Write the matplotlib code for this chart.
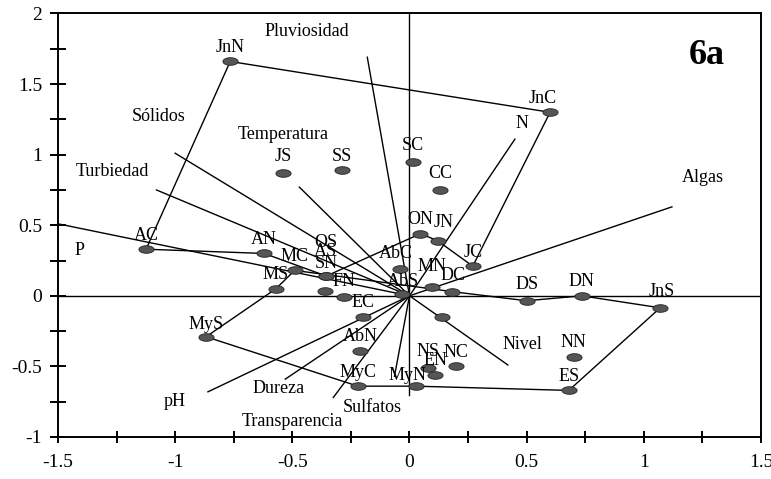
import numpy as np
import matplotlib
matplotlib.use("Agg")
import matplotlib.pyplot as plt

plt.rcParams['font.family'] = ['Liberation Serif', 'DejaVu Serif']

# sample scores (month + site)
names = ['JnN', 'JnC', 'SC', 'CC', 'JS', 'SS', 'AC', 'AN', 'MC', 'MS',
         'OS', 'AS', 'SN', 'FN', 'EC', 'MyS', 'AbN', 'MyC', 'MyN', 'NS',
         'EN', 'NC', '', 'NN', 'ES', 'JnS', 'DN', 'DS', 'DC', 'MN',
         'JC', 'JN', 'ON', 'AbC', 'AbS']
sx = [-0.765, 0.60, 0.013, 0.13, -0.54, -0.29, -1.124, -0.62, -0.49, -0.57,
      -0.355, -0.36, -0.355, -0.278, -0.20, -0.868, -0.21, -0.22, 0.026, 0.077,
      0.11, 0.197, 0.14, 0.70, 0.68, 1.07, 0.735, 0.50, 0.18, 0.094,
      0.27, 0.12, 0.047, -0.04, -0.03]
sy = [1.66, 1.30, 0.95, 0.75, 0.87, 0.89, 0.33, 0.30, 0.18, 0.05,
      0.14, 0.035, 0.14, -0.007, -0.148, -0.29, -0.39, -0.64, -0.64, -0.51,
      -0.56, -0.50, -0.15, -0.43, -0.67, -0.085, 0.0, -0.035, 0.03, 0.06,
      0.21, 0.39, 0.44, 0.19, 0.01]

# environmental vectors
vec_names = ['P', 'Turbiedad', 'Sólidos', 'Temperatura', 'Pluviosidad', 'N',
             'Algas', 'Nivel', 'pH', 'Dureza', 'Sulfatos', 'Transparencia']
vx = [-1.5, -1.08, -1.0, -0.47, -0.18, 0.45, 1.12, 0.42, -0.86, -0.53, -0.325, -0.064]
vy = [0.51, 0.75, 1.01, 0.77, 1.69, 1.11, 0.63, -0.49, -0.68, -0.59, -0.72, -0.57]

# envelopes
hull1 = ['AC', 'AN', 'SN', 'ON', 'JN', 'JC', 'JnC', 'JnN', 'AC']
hull2 = ['MyS', 'MS', 'MC', 'DC', 'DS', 'DN', 'JnS', 'ES', 'MyN', 'MyC', 'MyS']

xticks = [-1.5, -1, -0.5, 0, 0.5, 1, 1.5]
xtick_labels = ['-1.5', '-1', '-0.5', '0', '0.5', '1', '1.5']
yticks = [-1, -0.5, 0, 0.5, 1, 1.5, 2]
ytick_labels = ['-1', '-0.5', '0', '0.5', '1', '1.5', '2']

# where the vector names sit
vec_lab_x = [-1.41, -1.27, -1.07, -0.54, -0.44, 0.48, 1.25, 0.48, -1.0, -0.56, -0.16, -0.5]
vec_lab_y = [0.32, 0.88, 1.27, 1.14, 1.87, 1.22, 0.84, -0.345, -0.75, -0.66, -0.79, -0.89]

# label offsets in points (default straight above the dot)
lab_off = {'JnC': (-5, 10), 'SC': (0, 12), 'CC': (0, 12), 'JS': (0, 12),
           'MN': (0, 15), 'JN': (4, 13), 'AbC': (-3, 11), 'MyN': (-6, 8),
           'OS': (0, 24), 'AS': (0, 28), 'SN': (0, 9), 'AbS': (0, 9),
           'NS': (0, 12), 'DS': (0, 12), 'DC': (1, 11.5), 'JnS': (1, 11.5),
           'MyS': (0, 9), 'FN': (0, 11)}

fig = plt.figure(figsize=(7.71, 4.79), dpi=100)
ax = fig.add_axes([0.0752, 0.0877, 0.9118, 0.8842])

ax.axhline(0, color='black', lw=1.0, zorder=1)
ax.plot([0, 0], [-0.7, 2], color='black', lw=1.0, zorder=1)

for i in range(len(vec_names)):
    ax.plot([0, vx[i]], [0, vy[i]], color='black', lw=1.0, zorder=2)
    ax.text(vec_lab_x[i], vec_lab_y[i], vec_names[i], fontsize=13,
            ha='center', va='center')

for hull in [hull1, hull2]:
    hx = [sx[names.index(n)] for n in hull]
    hy = [sy[names.index(n)] for n in hull]
    ax.plot(hx, hy, color='black', lw=1.0, zorder=2)

t = np.linspace(0, 2*np.pi, 40)
ell = np.column_stack([np.cos(t), 0.5*np.sin(t)])
ax.scatter(sx, sy, marker=ell, s=120, facecolor='#555555', edgecolor='#222222',
           linewidths=0.6, zorder=3)

for i, n in enumerate(names):
    if n == '':
        continue
    off = lab_off.get(n, (0, 10))
    ax.annotate(n, (sx[i], sy[i]), xytext=off, textcoords='offset points',
                ha='center', va='center', fontsize=13, zorder=4)

ax.text(1.27, 1.70, '6a', fontsize=26, fontweight='bold', ha='center', va='center')

ax.set_xlim(-1.5, 1.5)
ax.set_ylim(-1, 2)
ax.set_xticks(xticks)
ax.set_xticklabels(xtick_labels)
ax.set_yticks(yticks)
ax.set_yticklabels(ytick_labels)
ax.set_xticks(np.arange(-1.25, 1.5, 0.5), minor=True)
ax.set_yticks(np.arange(-0.75, 2, 0.5), minor=True)
ax.tick_params(axis='x', which='both', direction='inout', length=8, width=1.4,
               labelsize=14, pad=8)
ax.tick_params(axis='y', which='both', direction='inout', length=11, width=1.4,
               labelsize=14, pad=6)
for s in ax.spines.values():
    s.set_linewidth(1.4)

fig.savefig("out.png", dpi=100)
